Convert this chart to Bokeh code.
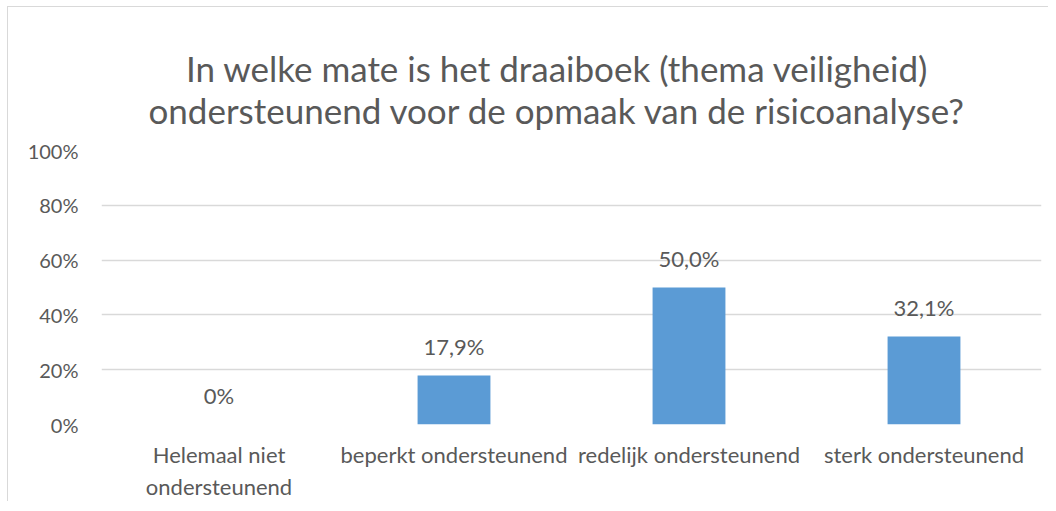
from bokeh.plotting import figure
from bokeh.models import ColumnDataSource, FixedTicker, NumeralTickFormatter, Range1d, FactorRange, Title
from bokeh.core.properties import value
from bokeh.embed import file_html
from bokeh.resources import INLINE

categories = ["Helemaal niet\nondersteunend", "beperkt ondersteunend", "redelijk ondersteunend", "sterk ondersteunend"]
shares = [0.0, 0.179, 0.500, 0.321]
labels = ["0%", "17,9%", "50,0%", "32,1%"]
y_ticks = [0, 0.2, 0.4, 0.6, 0.8, 1.0]
title_lines = ["In welke mate is het draaiboek (thema veiligheid)",
               "ondersteunend voor de opmaak van de risicoanalyse?"]

FONT = "Lato"
GREY = "#595959"

src = ColumnDataSource(dict(cat=categories, val=shares, lab=labels))

p = figure(width=1041, height=495, x_range=FactorRange(*categories), y_range=Range1d(0, 1.0),
           output_backend="svg", toolbar_location=None,
           min_border_left=93, min_border_right=8, min_border_top=143, min_border_bottom=40)
p.title = Title(text="\n".join(title_lines), align="left", offset=47, standoff=40,
                text_align="center", text_line_height=1.0, text_font=FONT,
                text_font_size="35px", text_font_style="normal", text_color=GREY)
p.outline_line_color = None
p.styles = {"margin-left": "7px", "margin-top": "6px",
            "border-left": "1px solid #D9D9D9", "border-top": "1px solid #D9D9D9"}

p.vbar(x="cat", top="val", width=0.31, source=src, color="#5B9BD5", line_color=None)
p.text(x="cat", y="val", text="lab", source=src, text_align="center", text_baseline="alphabetic",
       y_offset=-29, text_font=value(FONT), text_font_size="22px", text_color=GREY)

p.yaxis.ticker = FixedTicker(ticks=y_ticks)
p.yaxis.formatter = NumeralTickFormatter(format="0%")
p.yaxis.axis_line_color = None
p.yaxis.major_tick_line_color = None
p.yaxis.major_tick_out = 0
p.yaxis.major_tick_in = 0
p.yaxis.minor_tick_line_color = None
p.yaxis.major_label_standoff = 23
p.yaxis.major_label_text_font = FONT
p.yaxis.major_label_text_font_size = "20px"
p.yaxis.major_label_text_color = GREY

p.xaxis.axis_line_color = None
p.xaxis.major_tick_line_color = None
p.xaxis.major_tick_out = 0
p.xaxis.major_tick_in = 0
p.xaxis.major_label_standoff = 16
p.xaxis.major_label_text_font = FONT
p.xaxis.major_label_text_font_size = "22px"
p.xaxis.major_label_text_color = GREY

p.xgrid.grid_line_color = None
p.ygrid.grid_line_color = "#D9D9D9"
p.ygrid.grid_line_width = 1.5

open("out.html", "w").write(file_html(p, INLINE))
